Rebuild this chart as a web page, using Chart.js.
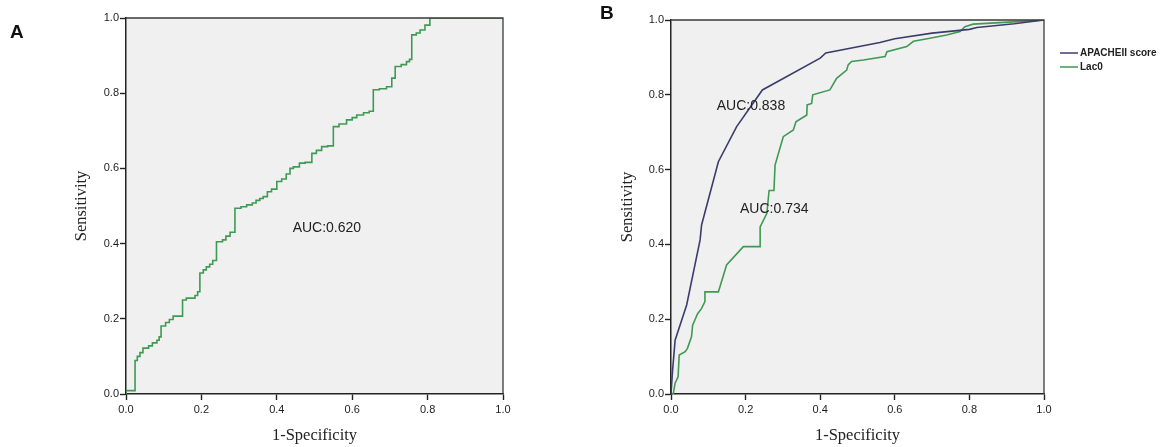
<!DOCTYPE html>
<html><head><meta charset="utf-8">
<script src="https://cdn.jsdelivr.net/npm/chart.js@4.4.1/dist/chart.umd.min.js"></script>
<style>
html,body{margin:0;padding:0;background:#fff;}
#wrap{position:relative;width:1160px;height:447px;overflow:hidden;}
canvas{position:absolute;top:0;}
#ca{left:0;} #cb{left:580px;}
</style></head><body>
<div id="wrap"><canvas id="ca" width="580" height="447"></canvas><canvas id="cb" width="580" height="447"></canvas></div>
<script>
// ---- data ----
const tickValues = [0, 0.2, 0.4, 0.6, 0.8, 1.0];
const tickLabels = ['0.0', '0.2', '0.4', '0.6', '0.8', '1.0'];
const xTitle = '1-Specificity';
const yTitle = 'Sensitivity';
const panelLetters = ['A', 'B'];
const seriesNames = ['APACHEII score', 'Lac0'];
const aucTextA = 'AUC:0.620';
const aucTextApache = 'AUC:0.838';
const aucTextLacB = 'AUC:0.734';

// Panel A: Lac0 ROC step corners (horizontal then vertical)
const lacA_fpr = [0,0,0.024,0.030,0.037,0.045,0.060,0.070,0.082,0.088,0.093,0.105,0.115,0.125,0.150,0.160,0.183,0.190,0.196,0.205,0.213,0.222,0.230,0.240,0.256,0.265,0.276,0.289,0.305,0.320,0.335,0.345,0.355,0.364,0.375,0.386,0.400,0.413,0.425,0.435,0.444,0.460,0.475,0.493,0.505,0.519,0.535,0.550,0.565,0.585,0.600,0.612,0.630,0.645,0.656,0.672,0.691,0.705,0.714,0.730,0.744,0.752,0.758,0.770,0.780,0.793,0.806,1.0];
const lacA_tpr = [0,0.009,0.089,0.100,0.110,0.122,0.128,0.136,0.143,0.152,0.181,0.190,0.198,0.207,0.250,0.255,0.262,0.272,0.322,0.330,0.338,0.345,0.355,0.405,0.410,0.420,0.430,0.494,0.498,0.503,0.508,0.515,0.520,0.525,0.538,0.545,0.565,0.572,0.585,0.600,0.604,0.614,0.616,0.640,0.648,0.658,0.660,0.711,0.718,0.729,0.735,0.742,0.748,0.752,0.809,0.812,0.817,0.840,0.871,0.876,0.884,0.890,0.955,0.960,0.968,0.981,1.0,1.0];

// Panel B: APACHEII score ROC
const apache_fpr = [0,0.004,0.011,0.042,0.078,0.082,0.127,0.176,0.245,0.400,0.415,0.560,0.600,0.700,0.800,0.820,0.920,1.0];
const apache_tpr = [0,0.060,0.144,0.238,0.412,0.452,0.621,0.715,0.813,0.898,0.912,0.940,0.950,0.965,0.975,0.980,0.990,1.0];
// Panel B: Lac0 ROC
const lacB_fpr = [0,0.006,0.011,0.019,0.022,0.038,0.044,0.055,0.058,0.064,0.071,0.082,0.091,0.091,0.127,0.149,0.194,0.239,0.239,0.257,0.263,0.276,0.279,0.301,0.328,0.335,0.364,0.365,0.377,0.380,0.426,0.444,0.471,0.475,0.484,0.516,0.574,0.579,0.632,0.650,0.694,0.739,0.775,0.788,0.810,0.846,0.917,1.0];
const lacB_tpr = [0,0,0.029,0.046,0.104,0.113,0.122,0.153,0.184,0.198,0.214,0.229,0.247,0.273,0.273,0.345,0.394,0.394,0.447,0.483,0.544,0.544,0.612,0.688,0.706,0.728,0.746,0.773,0.777,0.800,0.813,0.844,0.866,0.880,0.889,0.893,0.902,0.915,0.929,0.943,0.951,0.960,0.969,0.982,0.989,0.991,0.995,1.0];

// ---- helpers ----
const GREEN = '#3e9a52';
const NAVY = '#3c3c6c';
const AXIS = '#232323';

function toPoints(xs, ys) { return xs.map((x, i) => ({x, y: ys[i]})); }
function toStepPoints(xs, ys) {
  const pts = [];
  xs.forEach((x, i) => {
    if (i > 0) pts.push({x, y: ys[i - 1]});
    pts.push({x, y: ys[i]});
  });
  return pts;
}

const panelPlugin = {
  id: 'panelDeco',
  beforeDraw(chart) {
    const {ctx, chartArea: a} = chart;
    ctx.save();
    ctx.fillStyle = '#f1f0f1';
    ctx.fillRect(a.left, a.top, a.right - a.left, a.bottom - a.top);
    ctx.restore();
  },
  afterDraw(chart) {
    const {ctx, chartArea: a} = chart;
    const o = chart.options.plugins.panelDeco;
    ctx.save();
    ctx.strokeStyle = '#3a3a3a';
    ctx.lineWidth = 1.3;
    ctx.beginPath();
    ctx.moveTo(a.left, a.top); ctx.lineTo(a.right, a.top); ctx.lineTo(a.right, a.bottom);
    ctx.stroke();
    ctx.fillStyle = '#111';
    ctx.font = 'bold 19px "Liberation Sans", Arial, sans-serif';
    ctx.textBaseline = 'alphabetic';
    ctx.textAlign = 'left';
    ctx.fillText(o.letter, o.letterX, o.letterY);
    const xs = chart.scales.x, ys = chart.scales.y;
    ctx.font = '14px "Liberation Sans", Arial, sans-serif';
    ctx.fillStyle = '#222';
    ctx.textBaseline = 'middle';
    o.labels.forEach(l => {
      ctx.fillText(l.text, xs.getPixelForValue(l.x), ys.getPixelForValue(l.y));
    });
    if (o.legend) {
      ctx.font = 'bold 10px "Liberation Sans", Arial, sans-serif';
      chart.data.datasets.forEach((d, i) => {
        const y = o.legend.y + i * o.legend.gap;
        ctx.strokeStyle = d.borderColor;
        ctx.lineWidth = 1.5;
        ctx.beginPath();
        ctx.moveTo(o.legend.x, y); ctx.lineTo(o.legend.x + 18, y);
        ctx.stroke();
        ctx.fillStyle = '#222';
        ctx.fillText(d.label, o.legend.x + 20, y);
      });
    }
    ctx.restore();
  }
};

function axisOpts(isX, yTitlePad, xTitlePadBottom, fixedSize) {
  return {
    type: 'linear', min: 0, max: 1,
    afterBuildTicks: s => { s.ticks = tickValues.map(v => ({value: v})); },
    afterFit: s => { if (isX) s.height = fixedSize; else s.width = fixedSize; },
    ticks: {
      callback: (v) => tickLabels[tickValues.indexOf(v)] ?? '',
      color: '#1e1e1e',
      font: {family: '"Liberation Sans", Arial, sans-serif', size: 11},
      padding: isX ? 3 : 1,
      maxRotation: 0, autoSkip: false
    },
    grid: {display: true, drawOnChartArea: false, drawTicks: true, tickLength: 6, tickColor: AXIS, tickWidth: 1.4},
    border: {display: true, color: AXIS, width: 1.5},
    title: {
      display: true,
      text: isX ? xTitle : yTitle,
      color: '#222',
      font: {family: '"Liberation Serif", "Times New Roman", serif', size: 16.5},
      padding: isX ? {top: 0, bottom: xTitlePadBottom} : {top: yTitlePad, bottom: 0}
    }
  };
}

function makeChart(id, datasets, cfg) {
  return new Chart(document.getElementById(id), {
    type: 'scatter',
    data: {datasets},
    options: {
      responsive: false, animation: false,
      layout: {padding: {left: 0, top: cfg.top, right: cfg.right, bottom: 0}},
      scales: {
        x: axisOpts(true, 0, 1, 447 - 394),
        y: axisOpts(false, cfg.yTitlePad, 0, cfg.yWidth)
      },
      plugins: {
        legend: {display: false}, tooltip: {enabled: false},
        panelDeco: cfg.deco
      },
      elements: {point: {radius: 0}, line: {tension: 0}}
    },
    plugins: [panelPlugin]
  });
}

makeChart('ca', [
  {label: seriesNames[1], data: toStepPoints(lacA_fpr, lacA_tpr), showLine: true, borderColor: GREEN, borderWidth: 1.6, pointRadius: 0}
], {
  top: 18, right: 580 - 503, yWidth: 126, yTitlePad: 71.5,
  deco: {letter: panelLetters[0], letterX: 10, letterY: 38,
    labels: [{text: aucTextA, x: 0.442, y: 0.441}], legend: null}
});

makeChart('cb', [
  {label: seriesNames[0], data: toPoints(apache_fpr, apache_tpr), showLine: true, borderColor: NAVY, borderWidth: 1.6, pointRadius: 0},
  {label: seriesNames[1], data: toPoints(lacB_fpr, lacB_tpr), showLine: true, borderColor: GREEN, borderWidth: 1.6, pointRadius: 0}
], {
  top: 20, right: 580 - 464, yWidth: 91, yTitlePad: 38,
  deco: {letter: panelLetters[1], letterX: 20, letterY: 19,
    labels: [{text: aucTextApache, x: 0.1225, y: 0.77}, {text: aucTextLacB, x: 0.185, y: 0.495}],
    legend: {x: 480, y: 53, gap: 14}}
});
</script>
</body></html>
